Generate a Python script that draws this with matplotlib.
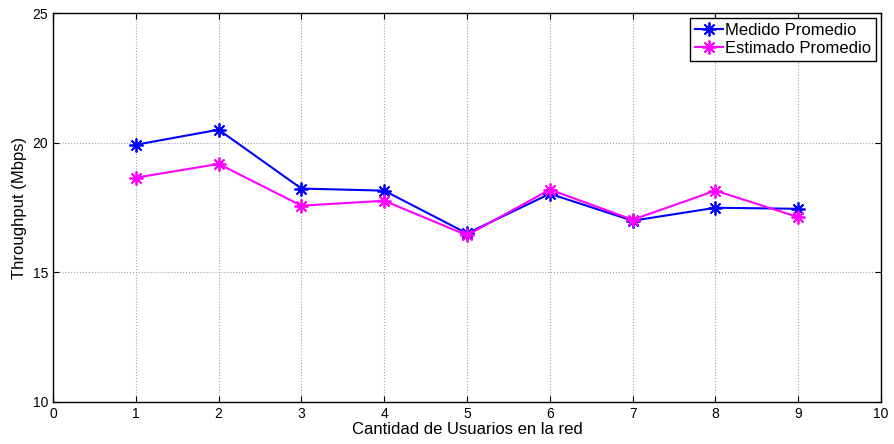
import matplotlib
matplotlib.use("Agg")
import matplotlib.pyplot as plt

plt.rcParams['font.family'] = ['Liberation Sans', 'DejaVu Sans']

usuarios = [1, 2, 3, 4, 5, 6, 7, 8, 9]
medido = [19.92, 20.50, 18.23, 18.15, 16.50, 18.03, 16.99, 17.49, 17.45]
estimado = [18.65, 19.18, 17.57, 17.76, 16.43, 18.19, 17.03, 18.15, 17.13]
xticks = list(range(0, 11))
yticks = [10, 15, 20, 25]

fig = plt.figure(figsize=(8.94, 4.44), dpi=100)
ax = fig.add_axes([0.0593, 0.0946, 0.9262, 0.8761])

star = (8, 2, 0)
ax.plot(usuarios, medido, color='#0000ff', marker=star, markersize=10,
        markeredgewidth=1.3, linewidth=1.5, label='Medido Promedio')
ax.plot(usuarios, estimado, color='#ff00ff', marker=star, markersize=10,
        markeredgewidth=1.3, linewidth=1.5, label='Estimado Promedio')

ax.set_xlim(0, 10)
ax.set_ylim(10, 25)
ax.set_xticks(xticks)
ax.set_yticks(yticks)
ax.tick_params(direction='in', length=4, labelsize=10, width=0.8)
ax.tick_params(top=True, right=True)
ax.grid(True, linestyle=':', color='#a0a0a0', linewidth=0.8)
for s in ax.spines.values():
    s.set_linewidth(1.0)

ax.set_xlabel('Cantidad de Usuarios en la red', fontsize=12, labelpad=1)
ax.set_ylabel('Throughput (Mbps)', fontsize=12, labelpad=4)

leg = ax.legend(loc='upper right', fontsize=12, fancybox=False, framealpha=1,
                edgecolor='black', borderpad=0.3, handlelength=1.7,
                handletextpad=0.1, labelspacing=0.15, borderaxespad=0.3)
leg.get_frame().set_linewidth(1.0)

fig.savefig('out.png', dpi=100)
